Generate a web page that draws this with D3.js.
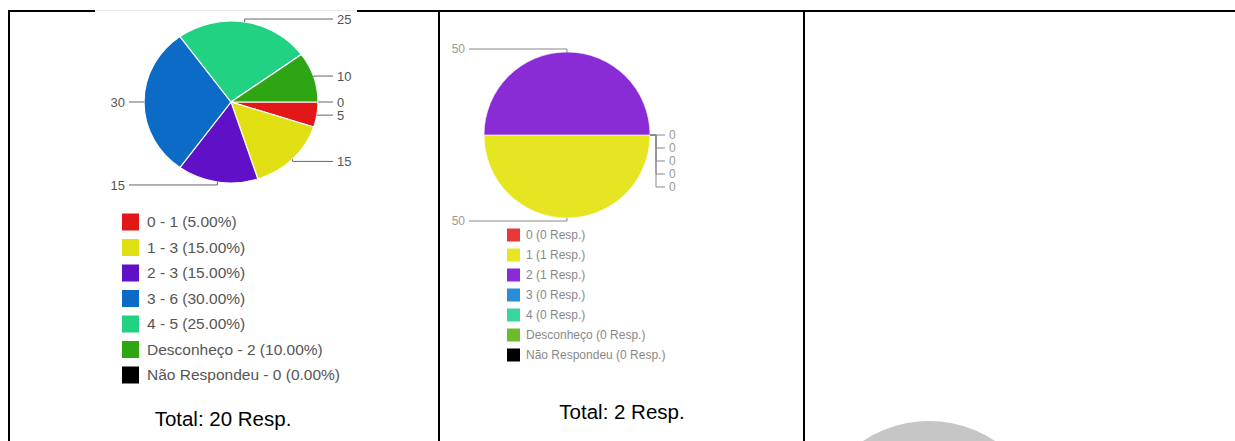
<!DOCTYPE html>
<html>
  <head>
    <title>d3</title>
    <meta charset="utf-8">
    <script src="https://d3js.org/d3.v7.min.js"></script>
    <style type="text/css">
      body { margin: 0; background: #fff; }
      svg text { font-family: Arial, "Liberation Sans", Helvetica, sans-serif; }
    </style>
  </head>
  <body>
    <svg id="chart"></svg>
    <script>
      // pergunta 1
      var cats1 = ["0 - 1", "1 - 3", "2 - 3", "3 - 6", "4 - 5", "Desconheço - 2", "Não Respondeu - 0"];
      var vals1 = [1, 3, 3, 6, 5, 2, 0];
      var colors1 = ["#e21717", "#e0df12", "#6010c6", "#0b6bc6", "#22d283", "#2ea512", "#000000"];

      // pergunta 2
      var cats2 = ["0", "1", "2", "3", "4", "Desconheço", "Não Respondeu"];
      var vals2 = [0, 1, 1, 0, 0, 0, 0];
      var colors2 = ["#e83838", "#e6e522", "#8a2cd6", "#2a8bd6", "#36d69c", "#6cbb2c", "#000000"];

      var W = 1235, H = 441;
      var svg = d3.select("#chart").attr("width", W).attr("height", H);

      // circulo cinza no canto (imagem cortada)
      svg.append("circle").attr("cx", 929).attr("cy", 540).attr("r", 119).attr("fill", "#c6c6c6");

      // bordas da tabela
      var border = svg.append("g").attr("fill", "#000");
      border.append("rect").attr("x", 8).attr("y", 10).attr("width", W - 8).attr("height", 2);
      border.append("rect").attr("x", 8).attr("y", 10).attr("width", 2).attr("height", H);
      border.append("rect").attr("x", 438).attr("y", 10).attr("width", 2).attr("height", H);
      border.append("rect").attr("x", 803).attr("y", 10).attr("width", 2).attr("height", H);
      svg.append("rect").attr("x", 95).attr("y", 10).attr("width", 262).attr("height", 3).attr("fill", "#fff");
      svg.append("line").attr("x1", 95).attr("x2", 357).attr("y1", 10.5).attr("y2", 10.5)
          .attr("stroke", "#e8e8e8");

      function drawPie(o) {
        var total = d3.sum(o.vals);
        var pie = d3.pie().sort(null).startAngle(Math.PI / 2).endAngle(Math.PI / 2 + 2 * Math.PI);
        var arcs = pie(o.vals);
        var arc = d3.arc().innerRadius(0).outerRadius(o.ry);

        var g = svg.append("g")
            .attr("transform", "translate(" + o.cx + "," + o.cy + ") scale(" + (o.rx / o.ry) + ",1)");
        g.selectAll("path")
          .data(arcs.filter(function(d) { return d.value > 0; }))
          .enter().append("path")
            .attr("d", arc)
            .attr("fill", function(d) { return o.colors[d.index]; })
            .attr("stroke", "#fff")
            .attr("stroke-width", o.sw)
            .attr("vector-effect", "non-scaling-stroke");

        // rotulos com linhas guia
        var labels = arcs.map(function(d) {
          var mid = (d.startAngle + d.endAngle) / 2;
          var sx = Math.sin(mid), sy = -Math.cos(mid);
          var px = o.cx + o.rx * sx, py = o.cy + o.ry * sy;
          return {
            d: d, px: px, py: py,
            side: sx > 1e-6 ? 1 : -1,
            y0: py + 3 * sy,
            text: Math.round(d.value / total * 100)
          };
        });
        [1, -1].forEach(function(side) {
          var list = labels.filter(function(l) { return l.side === side; });
          list.sort(function(a, b) { return a.y0 - b.y0 || a.d.index - b.d.index; });
          var last = -Infinity;
          list.forEach(function(l) {
            l.y = Math.max(l.y0, last + o.gap);
            last = l.y;
          });
        });

        var lg = svg.append("g");
        labels.forEach(function(l) {
          var colX = o.cx + l.side * (o.rx + 15);
          var pts;
          if (l.y - l.y0 > 0.5) {
            var kx = l.px + l.side * 6;
            pts = [[l.px, l.py], [kx, l.py], [kx, l.y], [colX, l.y]];
          } else {
            pts = [[l.px, l.py], [l.px, l.y], [colX, l.y]];
          }
          lg.append("path")
            .attr("d", d3.line()(pts))
            .attr("fill", "none")
            .attr("stroke", o.lineColor)
            .attr("stroke-width", 1);
          lg.append("text")
            .attr("x", colX + l.side * 4)
            .attr("y", l.y)
            .attr("dy", ".35em")
            .attr("text-anchor", l.side > 0 ? "start" : "end")
            .attr("fill", o.labelColor)
            .style("font-size", o.labelSize + "px")
            .text(l.text);
        });

        // legenda
        var leg = svg.append("g").selectAll("g")
          .data(o.cats)
          .enter().append("g")
            .attr("transform", function(d, i) { return "translate(" + o.legX + "," + (o.legY + i * o.legStep) + ")"; });
        leg.append("rect")
          .attr("x", 0).attr("y", -o.sq / 2)
          .attr("width", o.sq).attr("height", o.sq)
          .attr("fill", function(d, i) { return o.colors[i]; });
        leg.append("text")
          .attr("x", o.sq + o.legPad)
          .attr("y", 0)
          .attr("dy", ".35em")
          .attr("fill", o.legColor)
          .style("font-size", o.legSize + "px")
          .text(function(d, i) { return o.legText(d, i, total); });

        svg.append("text")
          .attr("x", o.totX).attr("y", o.totY)
          .attr("text-anchor", "middle")
          .attr("fill", "#000")
          .style("font-size", "20.5px")
          .text("Total: " + total + " Resp.");
      }

      drawPie({
        vals: vals1, cats: cats1, colors: colors1,
        cx: 231, cy: 102, rx: 87, ry: 81, sw: 1.2, gap: 13,
        lineColor: "#666", labelColor: "#555", labelSize: 13,
        legX: 122, legY: 222, legStep: 25.5, sq: 17, legPad: 8, legSize: 15.5, legColor: "#555",
        legText: function(d, i, t) { return d + " (" + (vals1[i] / t * 100).toFixed(2) + "%)"; },
        totX: 223, totY: 426
      });

      drawPie({
        vals: vals2, cats: cats2, colors: colors2,
        cx: 567, cy: 135, rx: 83, ry: 83, sw: 0.6, gap: 13,
        lineColor: "#888", labelColor: "#999", labelSize: 12,
        legX: 507, legY: 235, legStep: 20, sq: 13, legPad: 6, legSize: 12, legColor: "#888",
        legText: function(d, i) { return d + " (" + vals2[i] + " Resp.)"; },
        totX: 622, totY: 419
      });
    </script>
  </body>
</html>
